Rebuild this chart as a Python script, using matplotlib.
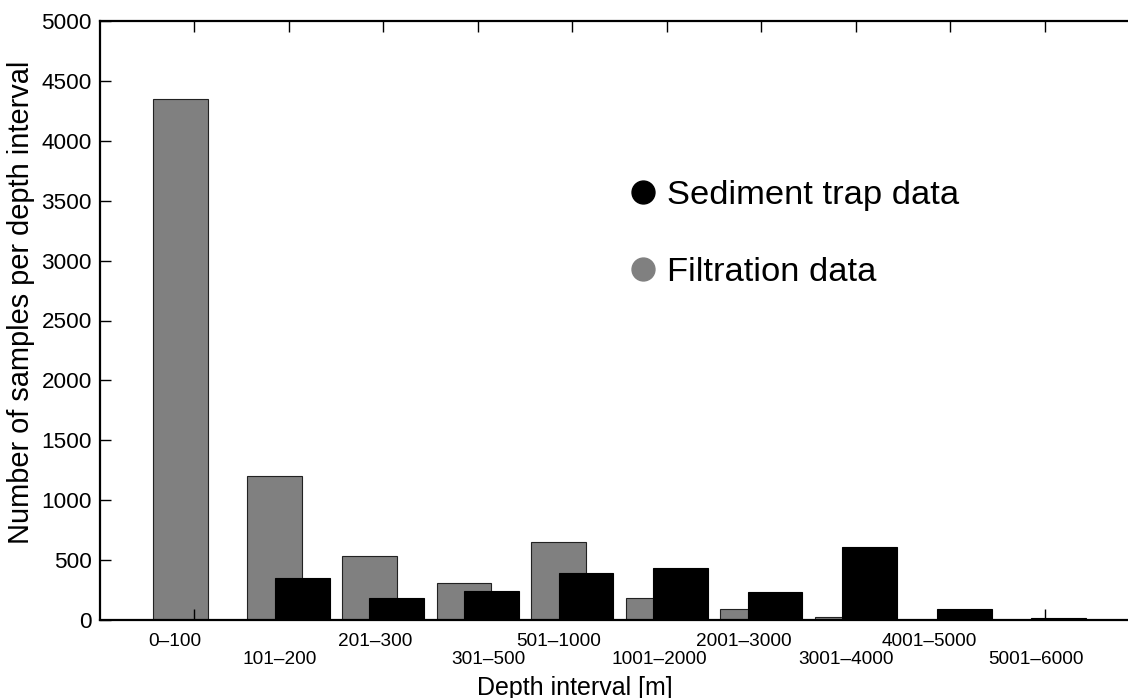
import numpy as np
import matplotlib.pyplot as plt
from matplotlib.lines import Line2D

plt.rcParams['font.family'] = ['Liberation Sans', 'DejaVu Sans']

# depth classes and sample counts per class
depth_labels = ['0\u2013100', '101\u2013200', '201\u2013300', '301\u2013500', '501\u20131000',
                '1001\u20132000', '2001\u20133000', '3001\u20134000', '4001\u20135000', '5001\u20136000']
filtration = [4350, 1200, 535, 310, 655, 185, 90, 25, 0, 0]
sediment_trap = [0, 350, 180, 240, 390, 435, 235, 610, 95, 20]

# where each class name sits under the axis (data x)
label_x = [0.80, 1.91, 2.92, 4.11, 4.86, 5.92, 6.81, 7.90, 8.78, 9.90]

fig = plt.figure(figsize=(11.28, 6.98), dpi=100)
ax = fig.add_axes([99.5 / 1128, 78 / 698, 1040 / 1128, 599 / 698])

pos = np.arange(1, len(depth_labels) + 1)
w = 0.58
ax.bar(pos - 0.145, filtration, width=w, color='#808080', edgecolor='#222222', linewidth=0.8, zorder=1)
ax.bar(pos + 0.145, sediment_trap, width=w, color='black', edgecolor='black', linewidth=0.8, zorder=2)

ax.set_xlim(0, 11)
ax.set_ylim(0, 5000)
ax.set_xticks(pos)
ax.set_xticklabels([])
ax.set_yticks(np.arange(0, 5001, 500))
ax.tick_params(axis='both', direction='in', length=8, width=1.0, top=True, right=False,
               labelsize=16.2, pad=5.5)
ax.set_axisbelow(False)
for side in ['left', 'top', 'bottom']:
    ax.spines[side].set_linewidth(1.6)
ax.spines['right'].set_visible(False)

# class names in two staggered rows
for i, (x, txt) in enumerate(zip(label_x, depth_labels)):
    y = -21 / 599 if i % 2 == 0 else -40 / 599
    ax.text(x, y, txt, transform=ax.get_xaxis_transform(), ha='center', va='center',
            fontsize=13.7)

ax.set_xlabel('Depth interval [m]', fontsize=18)
ax.xaxis.set_label_coords((575 - 99.5) / 1040, -56 / 599)
ax.set_ylabel('Number of samples per depth interval', fontsize=20.9)
ax.yaxis.set_label_coords(-64 / 1040, (620 - 302) / 599)

handles = [
    Line2D([], [], ls='none', marker='o', markersize=16.5, color='black', label='Sediment trap data'),
    Line2D([], [], ls='none', marker='o', markersize=16.5, color='#808080', label='Filtration data'),
]
ax.legend(handles=handles, loc='upper left', bbox_to_anchor=(612 / 1128, 1 - 163 / 698),
          bbox_transform=fig.transFigure, frameon=False, fontsize=24.8,
          handlelength=0.8, handletextpad=0.3, labelspacing=1.31, borderpad=0)

fig.savefig('out.png', dpi=100)
